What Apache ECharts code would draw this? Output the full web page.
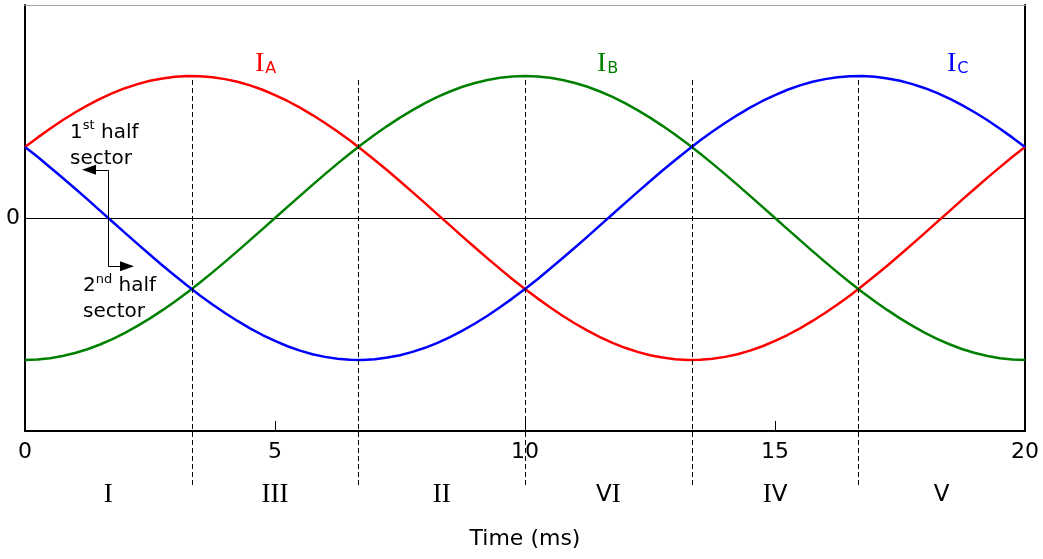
<!DOCTYPE html>
<html>
<head>
<meta charset="utf-8">
<script src="https://cdn.jsdelivr.net/npm/echarts@6/dist/echarts.min.js"></script>
<style>
  html, body { margin: 0; padding: 0; background: #fff; }
  #chart { width: 1043px; height: 559px; }
</style>
</head>
<body>
<div id="chart"></div>
<script>
// Phase currents over one 20 ms period (normalised amplitude), sampled every 0.25 ms
const timeMs = [0, 0.25, 0.5, 0.75, 1, 1.25, 1.5, 1.75, 2, 2.25, 2.5, 2.75, 3, 3.25, 3.5, 3.75, 4, 4.25, 4.5, 4.75,
  5, 5.25, 5.5, 5.75, 6, 6.25, 6.5, 6.75, 7, 7.25, 7.5, 7.75, 8, 8.25, 8.5, 8.75, 9, 9.25, 9.5, 9.75,
  10, 10.25, 10.5, 10.75, 11, 11.25, 11.5, 11.75, 12, 12.25, 12.5, 12.75, 13, 13.25, 13.5, 13.75, 14, 14.25, 14.5, 14.75,
  15, 15.25, 15.5, 15.75, 16, 16.25, 16.5, 16.75, 17, 17.25, 17.5, 17.75, 18, 18.25, 18.5, 18.75, 19, 19.25, 19.5, 19.75, 20];
const currentA = [0.500, 0.566, 0.629, 0.688, 0.743, 0.793, 0.839, 0.879, 0.914, 0.943, 0.966, 0.983, 0.995, 1.000, 0.999, 0.991, 0.978, 0.959, 0.934, 0.903,
  0.866, 0.824, 0.777, 0.725, 0.669, 0.609, 0.545, 0.477, 0.407, 0.334, 0.259, 0.182, 0.105, 0.026, -0.052, -0.131, -0.208, -0.284, -0.358, -0.431,
  -0.500, -0.566, -0.629, -0.688, -0.743, -0.793, -0.839, -0.879, -0.914, -0.943, -0.966, -0.983, -0.995, -1.000, -0.999, -0.991, -0.978, -0.959, -0.934, -0.903,
  -0.866, -0.824, -0.777, -0.725, -0.669, -0.609, -0.545, -0.477, -0.407, -0.334, -0.259, -0.182, -0.105, -0.026, 0.052, 0.131, 0.208, 0.284, 0.358, 0.431, 0.500];
const currentB = [-1.000, -0.997, -0.988, -0.972, -0.951, -0.924, -0.891, -0.853, -0.809, -0.760, -0.707, -0.649, -0.588, -0.523, -0.454, -0.383, -0.309, -0.233, -0.156, -0.078,
  0.000, 0.078, 0.156, 0.233, 0.309, 0.383, 0.454, 0.523, 0.588, 0.649, 0.707, 0.760, 0.809, 0.853, 0.891, 0.924, 0.951, 0.972, 0.988, 0.997,
  1.000, 0.997, 0.988, 0.972, 0.951, 0.924, 0.891, 0.853, 0.809, 0.760, 0.707, 0.649, 0.588, 0.523, 0.454, 0.383, 0.309, 0.233, 0.156, 0.078,
  0.000, -0.078, -0.156, -0.233, -0.309, -0.383, -0.454, -0.523, -0.588, -0.649, -0.707, -0.760, -0.809, -0.853, -0.891, -0.924, -0.951, -0.972, -0.988, -0.997, -1.000];
const currentC = [0.500, 0.431, 0.358, 0.284, 0.208, 0.131, 0.052, -0.026, -0.105, -0.182, -0.259, -0.334, -0.407, -0.477, -0.545, -0.609, -0.669, -0.725, -0.777, -0.824,
  -0.866, -0.903, -0.934, -0.959, -0.978, -0.991, -0.999, -1.000, -0.995, -0.983, -0.966, -0.943, -0.914, -0.879, -0.839, -0.793, -0.743, -0.688, -0.629, -0.566,
  -0.500, -0.431, -0.358, -0.284, -0.208, -0.131, -0.052, 0.026, 0.105, 0.182, 0.259, 0.334, 0.407, 0.477, 0.545, 0.609, 0.669, 0.725, 0.777, 0.824,
  0.866, 0.903, 0.934, 0.959, 0.978, 0.991, 0.999, 1.000, 0.995, 0.983, 0.966, 0.943, 0.914, 0.879, 0.839, 0.793, 0.743, 0.688, 0.629, 0.566, 0.500];

// Sector boundaries, sector centres and their names
const sectorBounds = [10 / 3, 20 / 3, 10, 40 / 3, 50 / 3];
const sectorMids = [5 / 3, 5, 25 / 3, 35 / 3, 15, 55 / 3];
const sectorNames = ['I', 'III', 'II', 'VI', 'IV', 'V'];

// Curve labels: [main letter, subscript, time, level, colour]
const curveLabels = [
  ['I', 'A', 4.6, 1.09, '#ff0000'],
  ['I', 'B', 11.44, 1.09, '#008000'],
  ['I', 'C', 18.44, 1.09, '#0000ff']
];

const SANS = 'DejaVu Sans';
const SERIF = 'Liberation Serif';

const pairs = arr => timeMs.map((t, i) => [t, arr[i]]);
const roman = s => s.split('').map(ch => ch === 'I' ? '{s|I}' : '{n|' + ch + '}').join('');

const chart = echarts.init(document.getElementById('chart'), null, { renderer: 'canvas' });

const lineSeries = (name, data, color) => ({
  name, type: 'line', data: pairs(data), showSymbol: false, smooth: false,
  lineStyle: { color, width: 2.5, join: 'round' }, itemStyle: { color }, z: 3
});

chart.setOption({
  animation: false,
  backgroundColor: '#fff',
  grid: { left: 25, right: 18, top: 5, bottom: 128, show: false },
  xAxis: [
    {
      type: 'value', min: 0, max: 20, interval: 5, position: 'bottom',
      axisLine: { onZero: false, lineStyle: { color: '#000', width: 2 } },
      axisTick: { inside: true, length: 10, lineStyle: { color: '#000', width: 1 } },
      axisLabel: { color: '#000', fontFamily: SANS, fontSize: 22, margin: 10 },
      splitLine: { show: false },
      name: 'Time (ms)', nameLocation: 'middle', nameGap: 97,
      nameTextStyle: { color: '#000', fontFamily: SANS, fontSize: 22 }
    },
    {
      type: 'value', min: 0, max: 20, position: 'bottom', offset: 50,
      axisLine: { show: false, onZero: false }, axisTick: { show: false }, splitLine: { show: false },
      axisLabel: {
        customValues: sectorMids, margin: 0,
        formatter: v => {
          const i = sectorMids.findIndex(m => Math.abs(m - v) < 1e-6);
          return i < 0 ? '' : roman(sectorNames[i]);
        },
        rich: {
          s: { fontFamily: SERIF, fontSize: 27, lineHeight: 28, color: '#000' },
          n: { fontFamily: SANS, fontSize: 23, lineHeight: 28, color: '#000' }
        }
      }
    },
    {
      type: 'value', min: 0, max: 20, position: 'top',
      axisLine: { show: true, onZero: false, lineStyle: { color: '#a0a0a0', width: 1 } },
      axisTick: { show: false }, axisLabel: { show: false }, splitLine: { show: false }
    }
  ],
  yAxis: [
    {
      type: 'value', min: -1.5, max: 1.5, interval: 1.5, position: 'left',
      axisLine: { show: true, onZero: false, lineStyle: { color: '#000', width: 2 } },
      axisTick: { show: false },
      axisLabel: { color: '#000', fontFamily: SANS, fontSize: 22, margin: 5, formatter: v => (v === 0 ? '0' : '') },
      splitLine: { show: true, showMinLine: false, showMaxLine: false, lineStyle: { color: '#000', width: 1 } }
    },
    {
      type: 'value', min: -1.5, max: 1.5, position: 'right',
      axisLine: { show: true, onZero: false, lineStyle: { color: '#000', width: 2 } },
      axisTick: { show: false }, axisLabel: { show: false }, splitLine: { show: false }
    }
  ],
  series: [
    lineSeries('IA', currentA, '#ff0000'),
    lineSeries('IB', currentB, '#008000'),
    lineSeries('IC', currentC, '#0000ff')
  ]
});

// Annotations placed through the chart's own coordinate conversion
const px = (t, v) => chart.convertToPixel({ xAxisIndex: 0, yAxisIndex: 0 }, [t, v]);
const axisBottom = px(0, -1.5)[1];
const graphics = [];

// Dashed sector boundaries, from the curve peaks down past the time axis
sectorBounds.forEach(b => {
  const top = px(b, 1);
  graphics.push({
    type: 'line', z: 10,
    shape: { x1: Math.round(top[0]) + 0.5, y1: top[1] + 4, x2: Math.round(top[0]) + 0.5, y2: axisBottom + 55 },
    style: { stroke: '#000', lineWidth: 1, lineDash: [5, 3] }
  });
});

// Phase current names
curveLabels.forEach(([main, sub, t, v, color]) => {
  const p = px(t, v);
  graphics.push({
    type: 'text', z: 10, x: p[0], y: p[1],
    style: {
      text: '{i|' + main + '}{b|' + sub + '}',
      align: 'left', verticalAlign: 'middle',
      rich: {
        i: { fontFamily: SERIF, fontSize: 28, lineHeight: 28, fill: color, color },
        b: { fontFamily: SANS, fontSize: 16, fill: color, color, verticalAlign: 'bottom', lineHeight: 28, padding: [0, 0, 0, 1] }
      }
    }
  });
});

// Half-sector notes
const noteRich = {
  n: { fontFamily: SANS, fontSize: 20, lineHeight: 26, fill: '#000', color: '#000' },
  u: { fontFamily: SANS, fontSize: 13, lineHeight: 26, fill: '#000', color: '#000', verticalAlign: 'top' }
};
[[0.9, 0.51, '{n|1}{u|st}{n| half}\n{n|sector}'], [1.16, -0.57, '{n|2}{u|nd}{n| half}\n{n|sector}']].forEach(([t, v, txt]) => {
  const p = px(t, v);
  graphics.push({
    type: 'text', z: 10, x: p[0], y: p[1],
    style: { text: txt, align: 'left', verticalAlign: 'middle', rich: noteRich }
  });
});

// Arrow marking the split between the two half sectors
const mid = px(5 / 3, 0.34), midLow = px(5 / 3, -0.34);
const tipL = px(1.14, 0.34), tipR = px(2.18, -0.34);
const head = 14, half = 5;
const xm = Math.round(mid[0]) + 0.5;
graphics.push({
  type: 'polyline', z: 10,
  shape: { points: [[tipL[0] + head, Math.round(mid[1]) + 0.5], [xm, Math.round(mid[1]) + 0.5], [xm, Math.round(midLow[1]) + 0.5], [tipR[0] - head, Math.round(midLow[1]) + 0.5]] },
  style: { stroke: '#000', lineWidth: 1, fill: null }
});
graphics.push({
  type: 'polygon', z: 10,
  shape: { points: [[tipL[0], mid[1]], [tipL[0] + head, mid[1] - half], [tipL[0] + head, mid[1] + half]] },
  style: { fill: '#000' }
});
graphics.push({
  type: 'polygon', z: 10,
  shape: { points: [[tipR[0], midLow[1]], [tipR[0] - head, midLow[1] - half], [tipR[0] - head, midLow[1] + half]] },
  style: { fill: '#000' }
});

chart.setOption({ graphic: graphics });
</script>
</body>
</html>
